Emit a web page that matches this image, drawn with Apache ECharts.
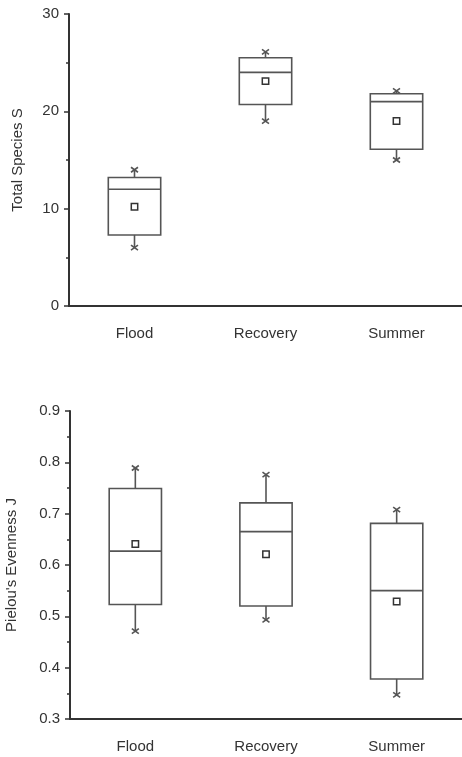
<!DOCTYPE html>
<html>
<head>
<meta charset="utf-8">
<script src="https://cdn.jsdelivr.net/npm/echarts@6/dist/echarts.min.js"></script>
<style>
html,body{margin:0;padding:0;background:#fff;}
#chart{width:462px;height:757px;}
</style>
</head>
<body>
<div id="chart"></div>
<script>
// Categories
const categories = ['Flood', 'Recovery', 'Summer'];

// Total Species S: [min, Q1, median, Q3, max, mean]
const speciesMin    = [6, 19, 15];
const speciesQ1     = [7.3, 20.7, 16.1];
const speciesMedian = [12, 24, 21];
const speciesQ3     = [13.2, 25.5, 21.8];
const speciesMax    = [14, 26.1, 22.1];
const speciesMean   = [10.2, 23.1, 19.0];

// Pielou's Evenness J
const evenMin    = [0.471, 0.493, 0.347];
const evenQ1     = [0.523, 0.520, 0.378];
const evenMedian = [0.627, 0.665, 0.550];
const evenQ3     = [0.749, 0.721, 0.681];
const evenMax    = [0.789, 0.776, 0.708];
const evenMean   = [0.641, 0.621, 0.529];

const speciesTicks = [0, 10, 20, 30];
const evenTicks = [0.3, 0.4, 0.5, 0.6, 0.7, 0.8, 0.9];

function buildData(mn, q1, md, q3, mx, mean) {
  return categories.map((c, i) => [i, mn[i], q1[i], md[i], q3[i], mx[i], mean[i]]);
}

const boxColor = '#555';
const FONT = '"Liberation Sans", Arial, sans-serif';

function renderBox(params, api) {
  const idx = api.value(0);
  const pMin = api.coord([idx, api.value(1)]);
  const pQ1 = api.coord([idx, api.value(2)]);
  const pMed = api.coord([idx, api.value(3)]);
  const pQ3 = api.coord([idx, api.value(4)]);
  const pMax = api.coord([idx, api.value(5)]);
  const pMean = api.coord([idx, api.value(6)]);
  const band = api.size([1, 0])[0];
  const w = band * 0.4;
  const x = pQ1[0];
  const lineStyle = { stroke: boxColor, lineWidth: 1.6, fill: null };
  const xs = 3.5, ys = 2.5;
  const children = [
    { type: 'rect', shape: { x: x - w / 2, y: pQ3[1], width: w, height: pQ1[1] - pQ3[1] }, style: { stroke: boxColor, lineWidth: 1.6, fill: '#fff' } },
    { type: 'line', shape: { x1: x - w / 2, y1: pMed[1], x2: x + w / 2, y2: pMed[1] }, style: lineStyle },
    { type: 'line', shape: { x1: x, y1: pQ3[1], x2: x, y2: pMax[1] }, style: lineStyle },
    { type: 'line', shape: { x1: x, y1: pQ1[1], x2: x, y2: pMin[1] }, style: lineStyle },
    { type: 'line', shape: { x1: x - xs, y1: pMax[1] - ys, x2: x + xs, y2: pMax[1] + ys }, style: lineStyle },
    { type: 'line', shape: { x1: x - xs, y1: pMax[1] + ys, x2: x + xs, y2: pMax[1] - ys }, style: lineStyle },
    { type: 'line', shape: { x1: x - xs, y1: pMin[1] - ys, x2: x + xs, y2: pMin[1] + ys }, style: lineStyle },
    { type: 'line', shape: { x1: x - xs, y1: pMin[1] + ys, x2: x + xs, y2: pMin[1] - ys }, style: lineStyle },
    { type: 'rect', shape: { x: pMean[0] - 3.2, y: pMean[1] - 3.2, width: 6.4, height: 6.4 }, style: { stroke: '#333', lineWidth: 1.5, fill: '#fff' } }
  ];
  return { type: 'group', children: children };
}

const chart = echarts.init(document.getElementById('chart'), null, { renderer: 'canvas' });

function xAxisCfg(gridIndex) {
  return {
    type: 'category', gridIndex: gridIndex, data: categories,
    boundaryGap: true,
    axisLine: { lineStyle: { color: '#333', width: 2 } },
    axisTick: { alignWithLabel: true, length: 7, lineStyle: { color: '#333', width: 2 } },
    axisLabel: { color: '#333', fontSize: 15, fontFamily: FONT, margin: 20 },
    splitLine: { show: false }
  };
}

function yAxisCfg(gridIndex, name, min, max, interval, nameGap, fmt) {
  return {
    type: 'value', gridIndex: gridIndex, min: min, max: max, interval: interval,
    name: name, nameLocation: 'middle', nameGap: nameGap,
    nameTextStyle: { color: '#333', fontSize: 15, fontFamily: FONT },
    axisLine: { show: true, lineStyle: { color: '#333', width: 2 } },
    axisTick: { show: true, length: 5, lineStyle: { color: '#333', width: 1.5 } },
    minorTick: { show: true, splitNumber: 2, length: 3, lineStyle: { color: '#333', width: 1.5 } },
    axisLabel: { color: '#333', fontSize: 15, fontFamily: FONT, margin: 10, formatter: fmt },
    splitLine: { show: false }
  };
}

chart.setOption({
  animation: false,
  backgroundColor: '#fff',
  grid: [
    { left: 69, top: 14, width: 393, height: 292, outerBoundsMode: 'none', containLabel: false },
    { left: 70, top: 411, width: 392, height: 308, outerBoundsMode: 'none', containLabel: false }
  ],
  xAxis: [xAxisCfg(0), xAxisCfg(1)],
  yAxis: [
    yAxisCfg(0, 'Total Species S', speciesTicks[0], speciesTicks[speciesTicks.length - 1], 10, 44, v => String(Math.round(v))),
    yAxisCfg(1, "Pielou's Evenness J", evenTicks[0], evenTicks[evenTicks.length - 1], 0.1, 51, v => v.toFixed(1))
  ],
  series: [
    {
      type: 'custom', xAxisIndex: 0, yAxisIndex: 0,
      renderItem: renderBox,
      encode: { x: 0, y: [1, 2, 3, 4, 5, 6] },
      data: buildData(speciesMin, speciesQ1, speciesMedian, speciesQ3, speciesMax, speciesMean)
    },
    {
      type: 'custom', xAxisIndex: 1, yAxisIndex: 1,
      renderItem: renderBox,
      encode: { x: 0, y: [1, 2, 3, 4, 5, 6] },
      data: buildData(evenMin, evenQ1, evenMedian, evenQ3, evenMax, evenMean)
    }
  ]
});
</script>
</body>
</html>
